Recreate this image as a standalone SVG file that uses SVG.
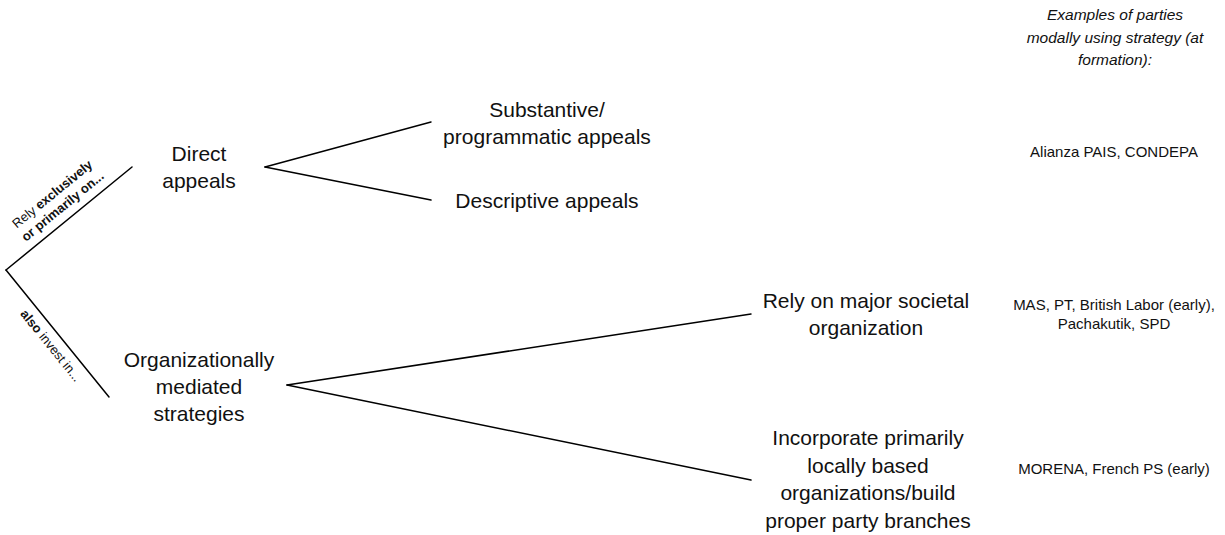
<svg xmlns="http://www.w3.org/2000/svg" width="1225" height="535" viewBox="0 0 1225 535">
  <style>
    .t { font-family: "Liberation Sans", Arial, sans-serif; fill: #111; text-anchor: middle; }
    .main { font-size: 21px; }
    .side { font-size: 15px; }
    .hdr { font-size: 15.5px; font-style: italic; }
    .lab { font-size: 13px; }
    .b { font-weight: bold; }
    .ln { stroke: #000; stroke-width: 1.5; fill: none; stroke-linecap: round; }
  </style>
  <rect width="1225" height="535" fill="#fff"/>

  <g id="connectors">
    <line class="ln" x1="6" y1="270" x2="132" y2="167"/>
    <line class="ln" x1="6" y1="270" x2="109" y2="397"/>
    <line class="ln" x1="265" y1="167" x2="431" y2="122"/>
    <line class="ln" x1="265" y1="167" x2="431" y2="200"/>
    <line class="ln" x1="287" y1="385" x2="751" y2="314"/>
    <line class="ln" x1="287" y1="385" x2="751" y2="480"/>
  </g>

  <g id="label-rely" transform="translate(6,270) rotate(-39.3)">
    <text class="t lab" x="84" y="-25">Rely <tspan class="b">exclusively</tspan></text>
    <text class="t lab b" x="84" y="-9">or primarily on...</text>
  </g>
  <g id="label-also" transform="translate(6,270) rotate(51)">
    <text class="t lab" x="87" y="17"><tspan class="b">also</tspan> invest in...</text>
  </g>

  <g id="node-direct">
    <text class="t main" x="199" y="161">Direct</text>
    <text class="t main" x="199" y="188">appeals</text>
  </g>
  <g id="node-substantive">
    <text class="t main" x="547" y="117">Substantive/</text>
    <text class="t main" x="547" y="144">programmatic appeals</text>
  </g>
  <g id="node-descriptive">
    <text class="t main" x="547" y="208">Descriptive appeals</text>
  </g>
  <g id="node-org">
    <text class="t main" x="199" y="367">Organizationally</text>
    <text class="t main" x="199" y="394">mediated</text>
    <text class="t main" x="199" y="421">strategies</text>
  </g>
  <g id="node-societal">
    <text class="t main" x="866" y="308">Rely on major societal</text>
    <text class="t main" x="866" y="335">organization</text>
  </g>
  <g id="node-local">
    <text class="t main" x="868" y="445">Incorporate primarily</text>
    <text class="t main" x="868" y="472.5">locally based</text>
    <text class="t main" x="868" y="500">organizations/build</text>
    <text class="t main" x="868" y="527.5">proper party branches</text>
  </g>

  <g id="header-examples">
    <text class="t hdr" x="1115" y="20">Examples of parties</text>
    <text class="t hdr" x="1115" y="43">modally using strategy (at</text>
    <text class="t hdr" x="1115" y="65">formation):</text>
  </g>
  <g id="ex-direct">
    <text class="t side" x="1114" y="157">Alianza PAIS, CONDEPA</text>
  </g>
  <g id="ex-societal">
    <text class="t side" x="1114" y="310">MAS, PT, British Labor (early),</text>
    <text class="t side" x="1114" y="329">Pachakutik, SPD</text>
  </g>
  <g id="ex-local">
    <text class="t side" x="1114" y="474">MORENA, French PS (early)</text>
  </g>
</svg>
